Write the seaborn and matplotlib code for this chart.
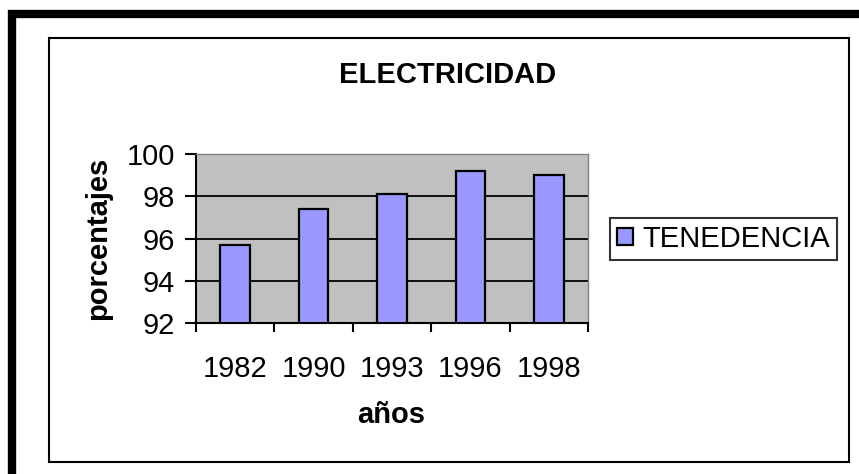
import matplotlib
matplotlib.use("Agg")
import matplotlib.pyplot as plt
from matplotlib.patches import Rectangle
import seaborn as sns
import numpy as np
import pandas as pd

anios = ["1982", "1990", "1993", "1996", "1998"]
tenencia = [95.7, 97.4, 98.1, 99.2, 99.0]
serie = "TENEDENCIA"
y_ticks = [92, 94, 96, 98, 100]

sns.set_style("white")
plt.rcParams['font.family'] = ['Liberation Sans', 'DejaVu Sans']
plt.rcParams['text.color'] = 'black'
plt.rcParams['xtick.color'] = 'black'
plt.rcParams['ytick.color'] = 'black'
plt.rcParams['xtick.labelcolor'] = 'black'
plt.rcParams['ytick.labelcolor'] = 'black'

df = pd.DataFrame({'anio': anios, 'valor': tenencia})

fig = plt.figure(figsize=(8.59, 4.74), dpi=100)
ax = fig.add_axes([196/859, 1-323/474, 392/859, 169/474])
ax.set_facecolor('#C0C0C0')

sns.barplot(x='anio', y='valor', data=df, color='#9999FF', edgecolor='black',
            linewidth=1.6, width=0.38, label=serie, ax=ax, saturation=1)

ax.set_ylim(92, 100)
ax.set_xlim(-0.5, 4.5)
ax.set_yticks(y_ticks)
ax.yaxis.grid(True, color='black', linewidth=1.3)
ax.set_axisbelow(True)

# ticks between categories
ax.set_xticks(np.arange(-0.5, 5, 1), minor=True)
ax.tick_params(axis='x', which='major', length=0, pad=23, labelsize=21)
ax.tick_params(axis='x', which='minor', length=6.5, width=1.5, direction='out',
               color='black', bottom=True)
ax.tick_params(axis='y', length=8, width=1.5, direction='out', color='black',
               left=True, pad=7, labelsize=21)

for s in ['left', 'bottom']:
    ax.spines[s].set_color('black')
    ax.spines[s].set_linewidth(1.5)
for s in ['top', 'right']:
    ax.spines[s].set_color('#808080')
    ax.spines[s].set_linewidth(1)

ax.set_xlabel('')
ax.set_ylabel('')
fig.text(448/859, 1-75/474, 'ELECTRICIDAD', ha='center', va='center',
         fontsize=21, fontweight='bold')
fig.text(98/859, 1-238/474, 'porcentajes', ha='center', va='center',
         rotation=90, fontsize=21, fontweight='bold')
fig.text(391/859, 1-415/474, 'años', ha='center', va='center',
         fontsize=21, fontweight='bold')

leg = ax.legend(loc='center left', bbox_to_anchor=(610/859, 1-239/474),
                bbox_transform=fig.transFigure, fontsize=21, frameon=True,
                fancybox=False, shadow=False, handlelength=0.55,
                handleheight=0.55, handletextpad=0.3, borderpad=0.25,
                borderaxespad=0)
leg.get_frame().set_edgecolor('black')
leg.get_frame().set_linewidth(1.5)

# outer thick frame and inner chart box
fig.add_artist(Rectangle((12/859, -0.1), 1.2, 1.1 - 14/474,
                         transform=fig.transFigure, fill=False,
                         edgecolor='black', linewidth=6))
fig.add_artist(Rectangle((49/859, 1-462/474), 800/859, 424/474,
                         transform=fig.transFigure, fill=False,
                         edgecolor='black', linewidth=1.5))

fig.savefig('out.png', dpi=100)
